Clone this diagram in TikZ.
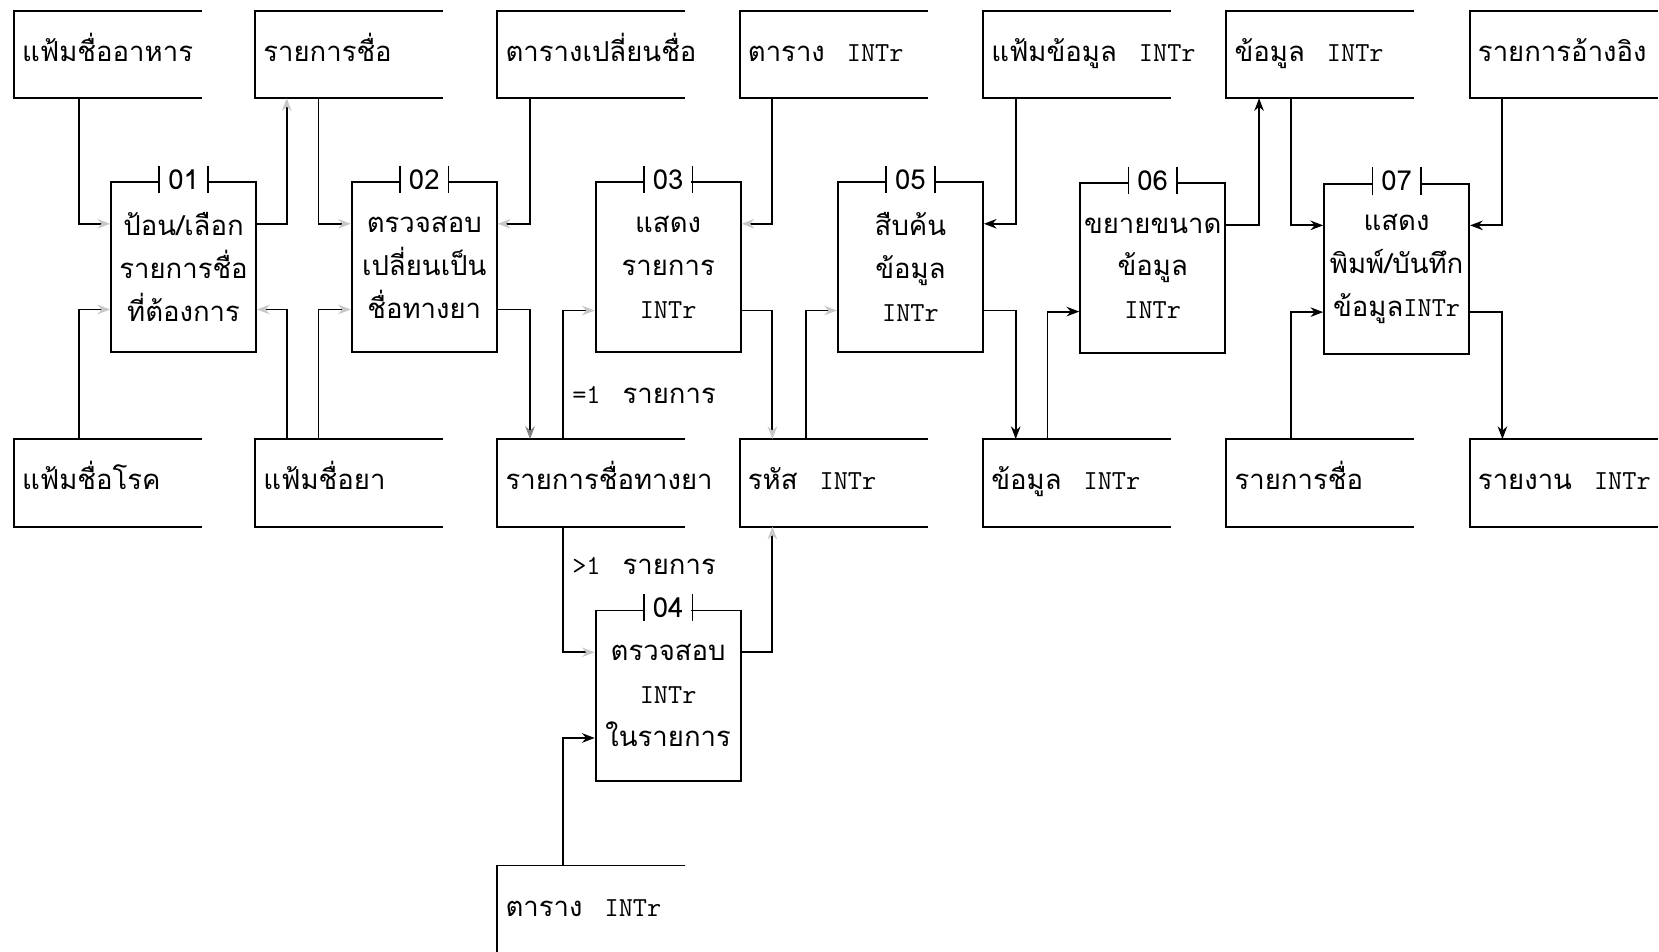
\documentclass[tikz,border=0pt]{standalone}
\usepackage{fontspec}
\newfontfamily\thai[Script=Thai]{Loma}
\usetikzlibrary{arrows.meta,calc}
\newcommand\I{{\ttfamily INTr}}
\newcommand\gap{\hspace{0.8em}}
\newcommand\storeedges[1]{\draw (#1.north east) -- (#1.north west) -- (#1.south west) -- (#1.south east);}
\newcommand\stext[2]{\node[stlabel] (#1t) at ([xshift=3.5pt,yshift=-24pt]#1.north west) {#2};}
\newcommand\ptab[2]{\node[tabnum] (#1n) at ([yshift=0.8pt]#1.north) {#2};
  \draw[line width=0.8pt] (#1n.north west) -- (#1n.south west) (#1n.north east) -- (#1n.south east);}
\begin{document}
\begin{tikzpicture}[x=0.5pt,y=-0.5pt, line width=0.9pt,
 store/.style={anchor=north west, minimum width=88pt, minimum height=40.5pt, inner sep=0pt},
 stlabel/.style={anchor=base west, inner sep=0pt, font=\thai\fontsize{13}{16}\selectfont},
 proc/.style={draw, minimum width=68.5pt, minimum height=80.5pt, align=center, inner sep=0pt, font=\thai\fontsize{13}{20.25}\selectfont},
 tabnum/.style={fill=white, inner sep=0pt, minimum width=22pt, minimum height=12pt, font=\thai\fontsize{13}{13}\selectfont},
 dark/.style={-{Stealth[length=6pt,width=4.5pt]}},
 mid/.style={-{Stealth[length=6pt,width=4.5pt,color=black!50]}},
 faint/.style={-{Stealth[length=6pt,width=4.5pt,color=black!22]}},
 lbl/.style={anchor=west, inner sep=0pt, font=\thai\fontsize{13}{16}\selectfont}
]
\useasboundingbox (0,0) rectangle (1568,899);
% stores
\node[store] (s1) at (13,10) {};
\node[store] (s2) at (241,10) {};
\node[store] (s3) at (470,10) {};
\node[store] (s4) at (699,10) {};
\node[store] (s5) at (929,10) {};
\node[store] (s6) at (1159,10) {};
\node[store] (s7) at (1389,10) {};
\node[store] (b1) at (13,415) {};
\node[store] (b2) at (241,415) {};
\node[store] (b3) at (470,415) {};
\node[store] (b4) at (699,415) {};
\node[store] (b5) at (929,415) {};
\node[store] (b6) at (1159,415) {};
\node[store] (b7) at (1389,415) {};
\node[store] (t1) at (470,818) {};
\stext{s1}{แฟ้มชื่ออาหาร}
\stext{s2}{รายการชื่อ}
\stext{s3}{ตารางเปลี่ยนชื่อ}
\stext{s4}{ตาราง\gap\I}
\stext{s5}{แฟ้มข้อมูล\gap\I}
\stext{s6}{ข้อมูล\gap\I}
\stext{s7}{รายการอ้างอิง}
\stext{b1}{แฟ้มชื่อโรค}
\stext{b2}{แฟ้มชื่อยา}
\stext{b3}{รายการชื่อทางยา}
\stext{b4}{รหัส\gap\I}
\stext{b5}{ข้อมูล\gap\I}
\stext{b6}{รายการชื่อ}
\stext{b7}{รายงาน\gap\I}
\stext{t1}{ตาราง\gap\I}
\foreach \n in {s1,s2,s3,s4,s5,s6,s7,b1,b2,b3,b4,b5,b6,b7}{\storeedges{\n}}
\draw (t1.north east) -- (t1.north west) -- (t1.south west);
% processes
\node[proc] (p1) at (173.5,252.5) {ป้อน/เลือก\\รายการชื่อ\\ที่ต้องการ};
\node[proc] (p2) at (401,252.5) {ตรวจสอบ\\เปลี่ยนเป็น\\ชื่อทางยา};
\node[proc] (p3) at (631.5,252.5) {แสดง\\รายการ\\\I};
\node[proc] (p4) at (631.5,657.5) {ตรวจสอบ\\\I\\ในรายการ};
\node[proc] (p5) at (860.5,252.5) {สืบค้น\\ข้อมูล\\\I};
\node[proc] (p6) at (1089.5,253.5) {ขยายขนาด\\ข้อมูล\\\I};
\node[proc] (p7) at (1320,254) {แสดง\\พิมพ์/บันทึก\\ข้อมูล\I};
\ptab{p1}{01}\ptab{p2}{02}\ptab{p3}{03}\ptab{p4}{04}\ptab{p5}{05}\ptab{p6}{06}\ptab{p7}{07}
% P01
\draw[faint] ([xshift=31pt]s1.south west) |- ([yshift=20.5pt]p1.west);
\draw[faint] ([yshift=20.5pt]p1.east) -| ([xshift=15pt]s2.south west);
\draw[faint] ([xshift=31pt]b1.north west) |- ([yshift=-20pt]p1.west);
\draw[faint] ([xshift=15pt]b2.north west) |- ([yshift=-20pt]p1.east);
% P02
\draw[faint] ([xshift=30pt]s2.south west) |- ([yshift=20.5pt]p2.west);
\draw[faint] ([xshift=15.5pt]s3.south west) |- ([yshift=20.5pt]p2.east);
\draw[faint] ([xshift=30pt]b2.north west) |- ([yshift=-20pt]p2.west);
\draw[mid] ([yshift=-20pt]p2.east) -| ([xshift=15.5pt]b3.north west);
% P03
\draw[faint] ([xshift=15.5pt]s4.south west) |- ([yshift=20.5pt]p3.east);
\draw[faint] ([xshift=31pt]b3.north west) |- ([yshift=-20.5pt]p3.west);
\draw[faint] ([yshift=-20.5pt]p3.east) -| ([xshift=15.5pt]b4.north west);
% P04
\draw[faint] ([xshift=31pt]b3.south west) |- ([yshift=20.5pt]p4.west);
\draw[dark] ([xshift=31pt]t1.north west) |- ([yshift=-20pt]p4.west);
\draw[faint] ([yshift=20.5pt]p4.east) -| ([xshift=15.5pt]b4.south west);
% P05
\draw[faint] ([xshift=31.5pt]b4.north west) |- ([yshift=-20.5pt]p5.west);
\draw[dark] ([xshift=15.5pt]s5.south west) |- ([yshift=20.5pt]p5.east);
\draw[dark] ([yshift=-20.5pt]p5.east) -| ([xshift=15.5pt]b5.north west);
% P06
\draw[dark] ([xshift=30.5pt]b5.north west) |- ([yshift=-20.5pt]p6.west);
\draw[dark] ([yshift=20.5pt]p6.east) -| ([xshift=15.5pt]s6.south west);
% P07
\draw[dark] ([xshift=30.5pt]s6.south west) |- ([yshift=20.5pt]p7.west);
\draw[dark] ([xshift=15.5pt]s7.south west) |- ([yshift=20.5pt]p7.east);
\draw[dark] ([xshift=30.5pt]b6.north west) |- ([yshift=-20.5pt]p7.west);
\draw[dark] ([yshift=-20.5pt]p7.east) -| ([xshift=15.5pt]b7.north west);
% labels
\node[lbl] (l1) at (540,373) {{\ttfamily =1}\gap รายการ};
\node[lbl] (l2) at (540,535) {{\ttfamily >1}\gap รายการ};
\end{tikzpicture}
\end{document}
